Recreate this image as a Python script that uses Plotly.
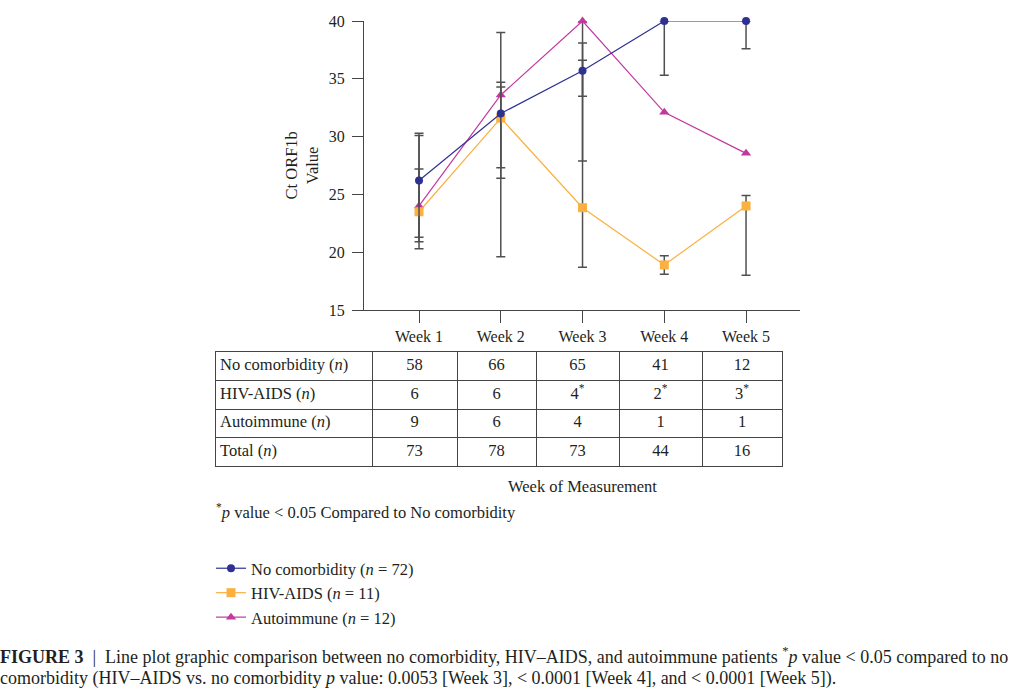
import numpy as np
import plotly.graph_objects as go

# Ct ORF1b value per week
weeks = ["Week 1", "Week 2", "Week 3", "Week 4", "Week 5"]
week_pos = [0, 1, 2, 3, 4]

no_comorb_ct = [26.2, 32.0, 35.7, 40.0, 40.0]
no_comorb_up = [4.1, 2.3, 2.4, np.nan, np.nan]
no_comorb_down = [4.9, 4.7, 2.2, 4.7, 2.4]

hiv_ct = [23.5, 31.6, 23.85, 18.9, 24.0]
hiv_up = [6.6, 7.4, 12.75, 0.8, 0.9]
hiv_down = [3.2, 12.0, 5.15, 0.8, 6.0]

auto_ct = [24.0, 33.6, 40.0, 32.1, 28.55]
auto_up = [3.2, 1.1, np.nan, np.nan, np.nan]
auto_down = [3.1, 7.2, 12.1, np.nan, np.nan]

# counts table under the plot
row_labels = ["No comorbidity (<i>n</i>)", "HIV-AIDS (<i>n</i>)",
              "Autoimmune (<i>n</i>)", "Total (<i>n</i>)"]
n_no_comorb = ["58", "66", "65", "41", "12"]
n_hiv = ["6", "6", "4<sup>*</sup>", "2<sup>*</sup>", "3<sup>*</sup>"]
n_auto = ["9", "6", "4", "1", "1"]
n_total = ["73", "78", "73", "44", "16"]

NAVY = "#2e3192"
ORANGE = "#fbb040"
MAGENTA = "#c2389e"
INK = "#231f20"
GRID = "#444444"
SERIF = "Liberation Serif"

W, H = 1024, 689


def px_x(x):
    return x / W


def px_y(y):
    return 1 - y / H


def err(up, down):
    return dict(type="data", symmetric=False,
                array=np.array(up, dtype=float),
                arrayminus=np.array(down, dtype=float),
                color="#505050", thickness=1.5, width=4.5)


fig = go.Figure()

# drawn autoimmune -> HIV -> no comorbidity so markers stack like the original
fig.add_trace(go.Scatter(
    x=week_pos, y=auto_ct, name="Autoimmune (<i>n</i> = 12)",
    mode="lines+markers", legendrank=3, cliponaxis=False,
    line=dict(color=MAGENTA, width=1.2),
    marker=dict(symbol="triangle-up", size=9, color=MAGENTA),
    error_y=err(auto_up, auto_down),
))
fig.add_trace(go.Scatter(
    x=week_pos, y=hiv_ct, name="HIV-AIDS (<i>n</i> = 11)",
    mode="lines+markers", legendrank=2, cliponaxis=False,
    line=dict(color=ORANGE, width=1.2),
    marker=dict(symbol="square", size=9, color=ORANGE),
    error_y=err(hiv_up, hiv_down),
))
fig.add_trace(go.Scatter(
    x=week_pos, y=no_comorb_ct, name="No comorbidity (<i>n</i> = 72)",
    mode="lines+markers", legendrank=1, cliponaxis=False,
    line=dict(color=NAVY, width=1.2),
    marker=dict(symbol="circle", size=8, color=NAVY),
    error_y=err(no_comorb_up, no_comorb_down),
))

# table drawn on its own axes: grid lines = cell borders, text trace = cells
col_widths = [156, 85, 79, 83, 83, 80]
edges = np.cumsum([0] + col_widths)
table_counts = [n_no_comorb, n_hiv, n_auto, n_total]

cell_x, cell_y, cell_text, cell_pos = [], [], [], []
for r, (label, counts) in enumerate(zip(row_labels, table_counts)):
    cell_x.append(edges[0] + 4)
    cell_y.append(r + 0.5)
    cell_text.append(label)
    cell_pos.append("middle right")
    for c, v in enumerate(counts):
        cell_x.append((edges[c + 1] + edges[c + 2]) / 2)
        cell_y.append(r + 0.5)
        cell_text.append(v)
        cell_pos.append("middle center")

fig.add_trace(go.Scatter(
    x=cell_x, y=cell_y, text=cell_text, textposition=cell_pos,
    mode="text", showlegend=False, hoverinfo="skip",
    textfont=dict(family=SERIF, size=16.5, color=INK),
    xaxis="x2", yaxis="y2",
))

axis_common = dict(showline=True, linecolor="#444", linewidth=1.3,
                   ticks="outside", tickcolor="#444", tickwidth=1.3,
                   showgrid=False, zeroline=False, automargin=False,
                   tickfont=dict(family=SERIF, size=16, color=INK))

table_axis = dict(showline=True, mirror=True, linecolor=GRID, linewidth=1,
                  showgrid=True, gridcolor=GRID, gridwidth=1,
                  showticklabels=False, ticks="", zeroline=False,
                  automargin=False, fixedrange=True)

fig.update_layout(
    xaxis=dict(domain=[px_x(364), px_x(800)], range=[-0.673, 4.66],
               tickvals=week_pos, ticktext=weeks, ticklen=12, **axis_common),
    yaxis=dict(domain=[px_y(310), px_y(21)], range=[15, 40],
               tickvals=[15, 20, 25, 30, 35, 40], ticklen=11,
               ticklabelstandoff=4, **axis_common),
    xaxis2=dict(domain=[px_x(216), px_x(782)], range=[0, edges[-1]],
                tickvals=edges[1:-1], anchor="y2", **table_axis),
    yaxis2=dict(domain=[px_y(466), px_y(352)], range=[4, 0],
                tickvals=[1, 2, 3], anchor="x2", **table_axis),
)

notes = [
    dict(x=px_x(302), y=px_y(165.5), text="Ct ORF1b<br>Value", textangle=-90,
         xanchor="center", yanchor="middle"),
    dict(x=px_x(582), y=px_y(486), text="Week of Measurement",
         xanchor="center", yanchor="middle"),
    dict(x=px_x(214), y=px_y(511),
         text="<sup>*</sup><i>p</i> value &lt; 0.05 Compared to No comorbidity",
         xanchor="left", yanchor="middle"),
    dict(x=px_x(-2), y=px_y(655),
         text="<b>FIGURE 3</b>  |  Line plot graphic comparison between no comorbidity, "
              "HIV–AIDS, and autoimmune patients <sup>*</sup><i>p</i> value &lt; 0.05 "
              "compared to no",
         xanchor="left", yanchor="middle", font=dict(size=18)),
    dict(x=px_x(-2), y=px_y(678),
         text="comorbidity (HIV–AIDS vs. no comorbidity <i>p</i> value: 0.0053 [Week 3], "
              "&lt; 0.0001 [Week 4], and &lt; 0.0001 [Week 5]).",
         xanchor="left", yanchor="middle", font=dict(size=18)),
]
for n in notes:
    fig.add_annotation(xref="paper", yref="paper", showarrow=False, **n)

fig.update_layout(
    width=W, height=H,
    margin=dict(l=0, r=0, t=0, b=0),
    paper_bgcolor="white", plot_bgcolor="white",
    font=dict(family=SERIF, size=16.5, color=INK),
    hovermode=False,
    showlegend=True,
    legend=dict(x=px_x(211), y=px_y(551), xanchor="left", yanchor="top",
                bgcolor="rgba(0,0,0,0)", font=dict(family=SERIF, size=16.5, color=INK)),
)

# the page body otherwise adds an 8px offset around the figure
fig.write_html("out.html", config={"displayModeBar": False},
               post_script="document.body.style.margin='0';")
